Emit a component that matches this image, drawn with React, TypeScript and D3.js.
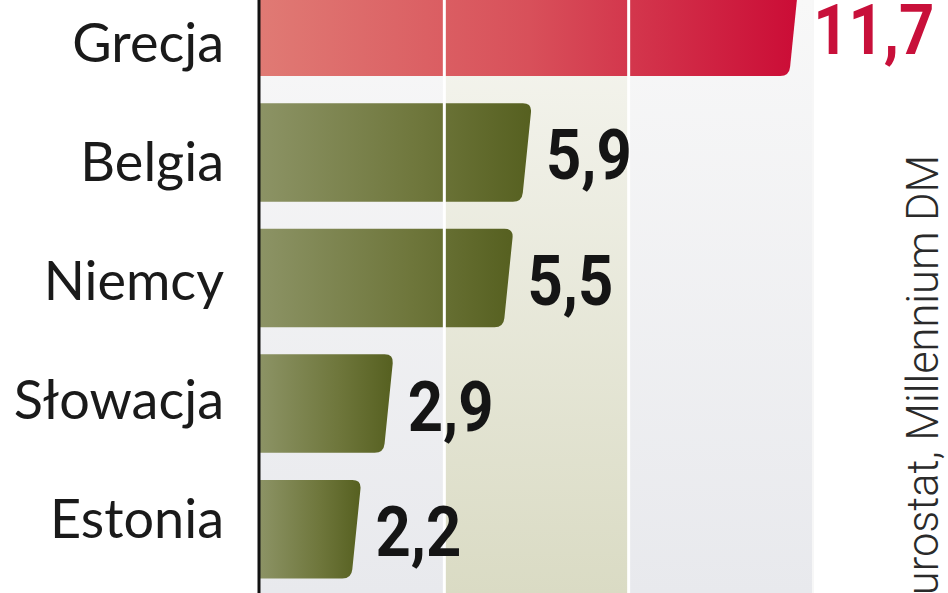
import React from "react";
import * as d3 from "d3";

const categories = ["Grecja", "Belgia", "Niemcy", "Słowacja", "Estonia"];
const values = [11.7, 5.9, 5.5, 2.9, 2.2];
const valueLabels = ["11,7", "5,9", "5,5", "2,9", "2,2"];
const highlight = ["Grecja"];
const gridTicks = [4, 8];
const bandTicks = [4, 8];
const sourceText = "Eurostat, Millennium DM";

const W = 948;
const H = 593;

export default function App() {
  const x = d3.scaleLinear().domain([0, 12]).range([260, 813]);
  const y = d3
    .scaleBand<string>()
    .domain(categories)
    .range([-36, 592])
    .paddingInner(0.216)
    .paddingOuter(0.108);
  const labelY = d3.scalePoint<string>().domain(categories).range([62, 538]);

  const bw = y.bandwidth();
  const slant = 10;
  const r = 9;

  const barPath = (v: number, cat: string) => {
    const x0 = x(0);
    const x1 = x(v);
    const y0 = y(cat) as number;
    const y1 = y0 + bw;
    const k = slant / bw;
    const p = d3.path();
    p.moveTo(x0, y0);
    p.lineTo(x1 - r, y0);
    p.quadraticCurveTo(x1, y0, x1 - k * r, y0 + r);
    p.lineTo(x1 - slant + k * r, y1 - r);
    p.quadraticCurveTo(x1 - slant, y1, x1 - slant - r, y1);
    p.lineTo(x0, y1);
    p.closePath();
    return p.toString();
  };

  return (
    <svg
      width={W}
      height={H}
      viewBox={`0 0 ${W} ${H}`}
      style={{ position: "fixed", left: 0, top: 0, display: "block", background: "#ffffff" }}
    >
      <defs>
        <linearGradient id="panelGrad" x1="0" y1="0" x2="0" y2="1">
          <stop offset="0" stopColor="#f8f8f8" />
          <stop offset="1" stopColor="#e8e9ed" />
        </linearGradient>
        <linearGradient id="bandGrad" x1="0" y1="0" x2="0" y2="1">
          <stop offset="0" stopColor="#f6f6f1" />
          <stop offset="1" stopColor="#dadbc4" />
        </linearGradient>
        <linearGradient id="redGrad" x1="0" y1="0" x2="1" y2="0">
          <stop offset="0" stopColor="#e07a74" />
          <stop offset="0.5" stopColor="#d8505a" />
          <stop offset="1" stopColor="#cb0c36" />
        </linearGradient>
        <linearGradient id="greenGrad" x1="0" y1="0" x2="1" y2="0">
          <stop offset="0" stopColor="#8c9365" />
          <stop offset="0.6" stopColor="#6e763b" />
          <stop offset="1" stopColor="#566020" />
        </linearGradient>
      </defs>

      <rect x={x(0)} y={0} width={x(12) - x(0)} height={H} fill="url(#panelGrad)" />
      <rect
        x={x(bandTicks[0])}
        y={0}
        width={x(bandTicks[1]) - x(bandTicks[0])}
        height={H}
        fill="url(#bandGrad)"
      />

      {categories.map((c, i) => (
        <path
          key={c}
          d={barPath(values[i], c)}
          fill={highlight.includes(c) ? "url(#redGrad)" : "url(#greenGrad)"}
        />
      ))}

      {gridTicks.map((t) => (
        <line key={t} x1={x(t)} x2={x(t)} y1={0} y2={H} stroke="#ffffff" strokeWidth={3} />
      ))}
      <line x1={x(12)} x2={x(12)} y1={0} y2={H} stroke="#f7f7f7" strokeWidth={2} />

      <line x1={x(0) - 1} x2={x(0) - 1} y1={0} y2={H} stroke="#111111" strokeWidth={3} />

      {categories.map((c) => (
        <text
          key={c}
          x={224}
          y={labelY(c)}
          textAnchor="end"
          fontFamily="Lato, 'Open Sans', sans-serif"
          fontSize={54}
          fill="#1a1a1a"
        >
          {c}
        </text>
      ))}

      {categories.map((c, i) => (
        <text
          key={c}
          transform={`translate(${x(values[i]) + 14},${(y(c) as number) + bw / 2 + 27}) scale(0.88,1)`}
          fontFamily="Roboto, 'DejaVu Sans', sans-serif"
          fontWeight={700}
          fontSize={70}
          fill={highlight.includes(c) ? "#c8103a" : "#151515"}
        >
          {valueLabels[i]}
        </text>
      ))}

      <text
        transform={`translate(938,155) rotate(-90) scale(0.965,1)`}
        textAnchor="end"
        fontFamily="Roboto, sans-serif"
        fontWeight={300}
        fontSize={45}
        fill="#2a2a2a"
      >
        {sourceText}
      </text>
    </svg>
  );
}
